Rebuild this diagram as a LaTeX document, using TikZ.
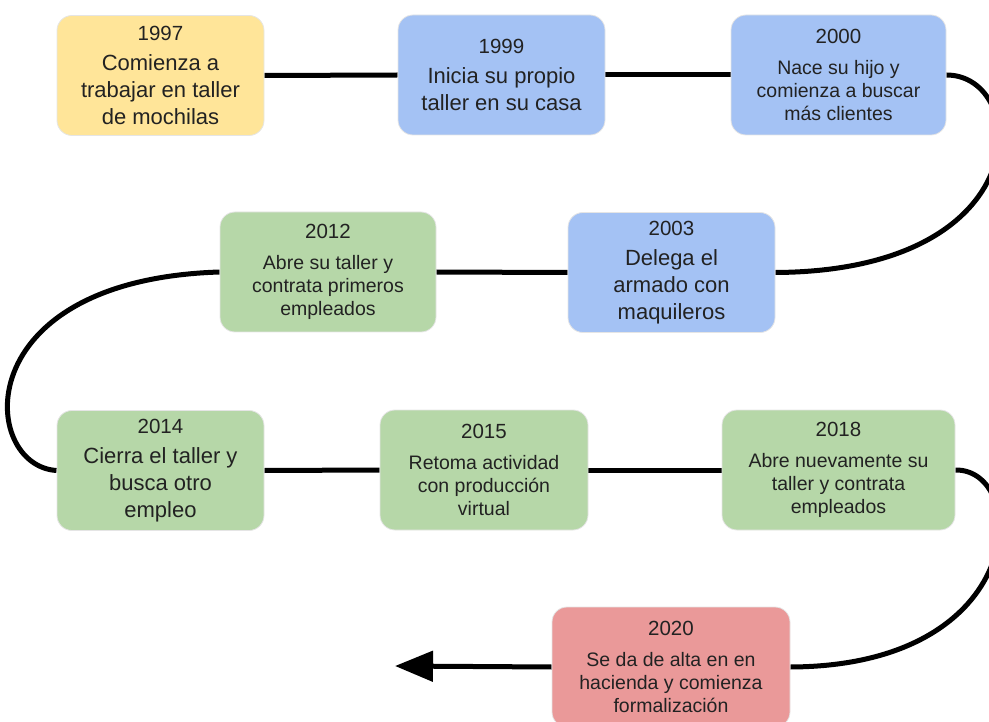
\documentclass[tikz,border=0pt]{standalone}
\usepackage{fontspec}
\setmainfont{Liberation Sans}
\usetikzlibrary{arrows.meta,backgrounds}
\definecolor{boxyellow}{HTML}{FFE599}
\definecolor{boxblue}{HTML}{A4C2F4}
\definecolor{boxgreen}{HTML}{B6D7A8}
\definecolor{boxred}{HTML}{EA9999}
\definecolor{inktext}{HTML}{222222}
\newcommand{\yearfont}{\fontsize{20.5}{24}\selectfont}
\begin{document}
\begin{tikzpicture}[x=1pt,y=-1pt,
  event/.style={rounded corners=15pt, draw=black!10, line width=0.8pt,
    minimum height=120pt, inner sep=0pt, align=center, text=inktext},
  bigtext/.style={font=\fontsize{22}{27}\selectfont},
  smalltext/.style={font=\fontsize{19.5}{23}\selectfont},
  link/.style={line width=5pt, draw=black}]
\useasboundingbox (0,0) rectangle (989,722);
\clip (0,0) rectangle (989,722);

% first row
\node[event, bigtext, fill=boxyellow, minimum width=207pt] (e1997) at (160.5,75.5)
  {{\yearfont 1997}\\[3pt]Comienza a\\trabajar en taller\\de mochilas};
\node[event, bigtext, fill=boxblue, minimum width=207pt] (e1999) at (501.5,75)
  {{\yearfont 1999}\\[3pt]Inicia su propio\\taller en su casa};
\node[event, smalltext, fill=boxblue, minimum width=215pt] (e2000) at (838.5,75)
  {{\yearfont 2000}\\[8pt]Nace su hijo y\\comienza a buscar\\más clientes};

% second row
\node[event, bigtext, fill=boxblue, minimum width=207pt] (e2003) at (671.5,272.5)
  {{\yearfont 2003}\\[3pt]Delega el\\armado con\\maquileros};
\node[event, smalltext, fill=boxgreen, minimum width=216pt] (e2012) at (328,272)
  {{\yearfont 2012}\\[8pt]Abre su taller y\\contrata primeros\\empleados};

% third row
\node[event, bigtext, fill=boxgreen, minimum width=207pt] (e2014) at (160.5,470.5)
  {{\yearfont 2014}\\[3pt]Cierra el taller y\\busca otro\\empleo};
\node[event, smalltext, fill=boxgreen, minimum width=208pt] (e2015) at (484,470)
  {{\yearfont 2015}\\[8pt]Retoma actividad\\con producción\\virtual};
\node[event, smalltext, fill=boxgreen, minimum width=233pt] (e2018) at (838.5,470)
  {{\yearfont 2018}\\[8pt]Abre nuevamente su\\taller y contrata\\empleados};

% last event
\node[event, smalltext, fill=boxred, minimum width=238pt] (e2020) at (671,667)
  {{\yearfont 2020}\\[8pt]Se da de alta en en\\hacienda y comienza\\formalización};
\coordinate (tip) at (395,666);

% connectors, drawn under the boxes
\begin{scope}[on background layer]
\draw[link] (e1997.east) -- (e1999.west);
\draw[link] (e1999.east) -- (e2000.west);
\draw[link] (e2000.east) .. controls (1030,75) and (1040,271) .. (e2003.east);
\draw[link] (e2003.west) -- (e2012.east);
\draw[link] (e2012.west) .. controls (-35,280) and (-20,466) .. (e2014.west);
\draw[link] (e2014.east) -- (e2015.west);
\draw[link] (e2015.east) -- (e2018.west);
\draw[link] (e2018.east) .. controls (1030,469) and (1030,666) .. (e2020.east);
\draw[link, -{Triangle[length=38pt, width=30pt]}] (e2020.west) -- (tip);
\end{scope}
\end{tikzpicture}
\end{document}
